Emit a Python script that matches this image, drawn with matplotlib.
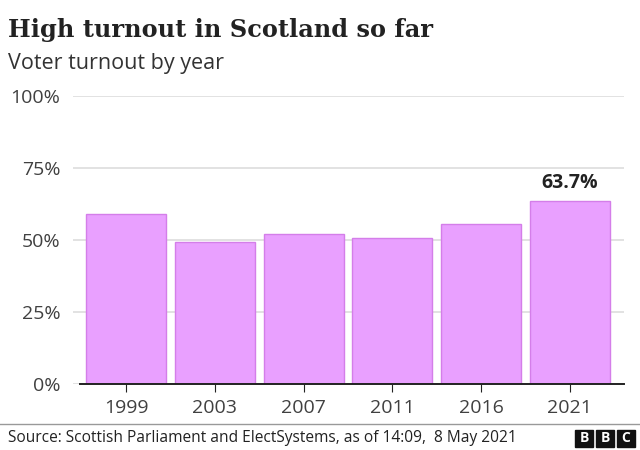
import matplotlib.pyplot as plt
from matplotlib.patches import Rectangle

years = ['1999', '2003', '2007', '2011', '2016', '2021']
turnout = [59.1, 49.4, 52.0, 50.8, 55.7, 63.7]
yticks = [0, 25, 50, 75, 100]

plt.rcParams['font.family'] = ['Open Sans', 'DejaVu Sans']

fig = plt.figure(figsize=(6.4, 4.5), dpi=100)
ax = fig.add_axes([0.114, 0.1467, 0.861, 0.64])

x = list(range(len(years)))
ax.bar(x, turnout, width=0.9, color='#e9a0ff', edgecolor='#d47ee9', linewidth=1, zorder=2)

# label only the latest year
ax.text(x[-1], turnout[-1] + 2.5, f'{turnout[-1]}%', ha='center', va='bottom',
        fontsize=14, fontweight='bold', color='#222222')

ax.set_ylim(0, 100)
ax.set_xlim(-0.6, 5.61)
ax.set_yticks(yticks)
ax.set_yticklabels([f'{v}%' for v in yticks])
ax.set_xticks(x)
ax.set_xticklabels(years)
ax.grid(axis='y', color='#dddddd', linewidth=1.2, zorder=0)
for s in ['top', 'right', 'left']:
    ax.spines[s].set_visible(False)
ax.spines['bottom'].set_color('#222222')
ax.spines['bottom'].set_linewidth(1.4)
ax.spines['bottom'].set_bounds(-0.52, 5.61)
ax.tick_params(axis='y', length=0, labelsize=14, labelcolor='#404040', pad=9)
ax.tick_params(axis='x', length=6, color='#222222', labelsize=14, labelcolor='#404040', pad=5)

fig.text(0.013, 0.933, 'High turnout in Scotland so far', fontsize=17.3, fontweight='bold',
         family=['DejaVu Serif'], color='#222222', va='center')
fig.text(0.013, 0.858, 'Voter turnout by year', fontsize=15.5, color='#333333', va='center')

# footer
fig.add_artist(plt.Line2D([0, 1], [1 - 424 / 450] * 2, color='#999999', linewidth=1))
fig.text(0.013, 1 - 438 / 450, 'Source: Scottish Parliament and ElectSystems, as of 14:09,  8 May 2021',
         fontsize=11.2, color='#222222', va='center')
for i, letter in enumerate('BBC'):
    x0 = (575 + i * 21) / 640
    fig.add_artist(Rectangle((x0, 1 - 447 / 450), 18 / 640, 17 / 450, color='#111111'))
    fig.text(x0 + 9 / 640, 1 - 438.5 / 450, letter, color='white', fontsize=10,
             fontweight='bold', ha='center', va='center')

fig.savefig('out.png', dpi=100)
